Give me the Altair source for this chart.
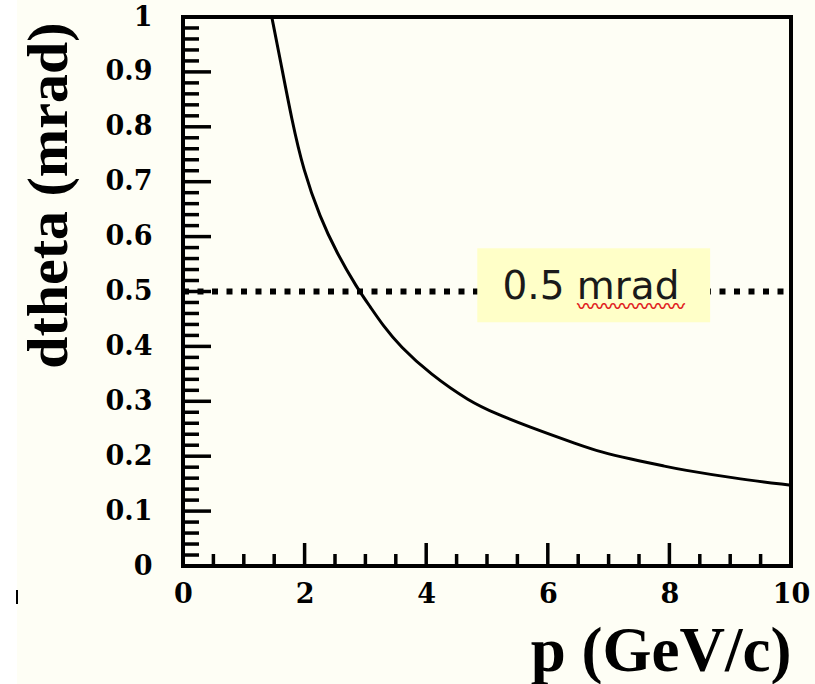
import altair as alt
import pandas as pd

# Angular resolution curve: dtheta (mrad) versus momentum p (GeV/c)
p_vals = [1.46, 1.60, 1.79, 1.98, 2.25, 2.53, 2.86, 3.08, 3.29, 3.57, 4.06,
          4.72, 5.16, 5.65, 6.53, 6.86, 7.35, 7.96, 8.17, 9.05, 10.0]
dtheta_vals = [1.000, 0.922, 0.812, 0.721, 0.636, 0.570, 0.507, 0.472, 0.438,
               0.400, 0.350, 0.299, 0.277, 0.255, 0.220, 0.208, 0.195, 0.181,
               0.176, 0.160, 0.147]

# Reference level and its label box
ref_level = 0.5
ref_label = "0.5 mrad"
box_p = [4.84, 8.67]
box_v = [0.444, 0.579]
label_pos = [6.71, 0.508]
squiggle_pos = [7.37, 0.470]

# Axis ticks and labels
x_major = [0, 2, 4, 6, 8, 10]
x_minor = [0.5, 1, 1.5, 2.5, 3, 3.5, 4.5, 5, 5.5, 6.5, 7, 7.5, 8.5, 9, 9.5]
y_major = [0, 0.1, 0.2, 0.3, 0.4, 0.5, 0.6, 0.7, 0.8, 0.9, 1]
y_minor = [round(0.02 * i, 2) for i in range(1, 50) if i % 5 != 0]

W, H = 608, 549
BG = "#FEFEF5"

xs = alt.Scale(domain=[0, 10], nice=False, zero=False)
ys = alt.Scale(domain=[0, 1], nice=False, zero=False)

x_axis = alt.Axis(
    values=x_major, format="d", title="p (GeV/c)",
    grid=False, ticks=False, domain=False,
    labelFont="DejaVu Serif", labelFontWeight="bold", labelFontSize=27,
    labelColor="black", labelPadding=15, labelBaseline="top",
    labelFlush=False, labelOverlap=False, labelBound=False,
    titleFont="Liberation Serif", titleFontWeight="bold", titleFontSize=63,
    titleColor="black", titleAlign="right", titleBaseline="alphabetic",
    titleX=W, titleY=104,
)
y_axis = alt.Axis(
    values=y_major, format="~g", title="dtheta (mrad)",
    grid=False, ticks=False, domain=False,
    labelFont="DejaVu Serif", labelFontWeight="bold", labelFontSize=27,
    labelColor="black", labelPadding=31, labelBaseline="middle",
    labelFlush=False, labelOverlap=False, labelBound=False,
    titleFont="Liberation Serif", titleFontWeight="bold", titleFontSize=58,
    titleColor="black", titleAngle=270, titleAlign="right",
    titleBaseline="alphabetic", titleX=-117, titleY=5,
)


def X(field):
    return alt.X(field, scale=xs, axis=x_axis)


def Y(field):
    return alt.Y(field, scale=ys, axis=y_axis)


curve_df = pd.DataFrame({"p": p_vals, "dtheta": dtheta_vals})
ref_df = pd.DataFrame({"p": [0, 10], "dtheta": [ref_level, ref_level]})
box_df = pd.DataFrame({"p0": [box_p[0]], "p1": [box_p[1]],
                       "v0": [box_v[0]], "v1": [box_v[1]]})
label_df = pd.DataFrame({"p": [label_pos[0]], "v": [label_pos[1]], "t": [ref_label]})
squig_df = pd.DataFrame({"p": [squiggle_pos[0]], "v": [squiggle_pos[1]],
                         "t": ["\u3030" * 6]})

curve = alt.Chart(curve_df).mark_line(
    color="black", strokeWidth=3, interpolate="basis"
).encode(x=X("p:Q"), y=Y("dtheta:Q"))

ref_line = alt.Chart(ref_df).mark_line(
    color="black", strokeWidth=6, strokeDash=[6, 8.5]
).encode(x=X("p:Q"), y=Y("dtheta:Q"))

box = alt.Chart(box_df).mark_rect(color="#FFFFC8").encode(
    x=X("p0:Q"), x2="p1:Q", y=Y("v0:Q"), y2="v1:Q",
)

label = alt.Chart(label_df).mark_text(
    font="DejaVu Sans", fontSize=39, color="#1a1a1a", align="center", baseline="middle"
).encode(x=X("p:Q"), y=Y("v:Q"), text="t:N")

squiggle = alt.Chart(squig_df).mark_text(
    font="Noto Sans CJK SC", fontSize=18, fontWeight="bold", color="#E02020",
    align="center", baseline="middle"
).encode(x=X("p:Q"), y=Y("v:Q"), text="t:N")


# Inward-pointing tick marks on the left and bottom axes
def y_ticks(vals, length):
    return alt.Chart(pd.DataFrame({"v": vals})).mark_rule(
        color="black", strokeWidth=3.5
    ).encode(y=Y("v:Q"), x=alt.value(0), x2=alt.value(length))


def x_ticks(vals, length):
    return alt.Chart(pd.DataFrame({"p": vals})).mark_rule(
        color="black", strokeWidth=3.5
    ).encode(x=X("p:Q"), y=alt.value(H), y2=alt.value(H - length))


strip = alt.Chart(pd.DataFrame({"a": [0]})).mark_rect(color="white").encode(
    x=alt.value(-183), x2=alt.value(-166), y=alt.value(-17), y2=alt.value(667)
)
stray = alt.Chart(pd.DataFrame({"a": [0]})).mark_rule(color="black", strokeWidth=2).encode(
    x=alt.value(-166), y=alt.value(573), y2=alt.value(587)
)

chart = alt.layer(
    curve, strip, stray, ref_line, box, label, squiggle,
    y_ticks(y_minor, 16), y_ticks(y_major, 28),
    x_ticks(x_minor, 12), x_ticks(x_major, 23),
).properties(
    width=W, height=H,
    autosize=alt.AutoSizeParams(type="none"),
    padding={"left": 183, "top": 17, "right": 24, "bottom": 118},
    background=BG,
).configure_view(
    stroke="black", strokeWidth=4, fill=BG
)

chart.save("out.html", embed_options={"renderer": "svg", "actions": False})
